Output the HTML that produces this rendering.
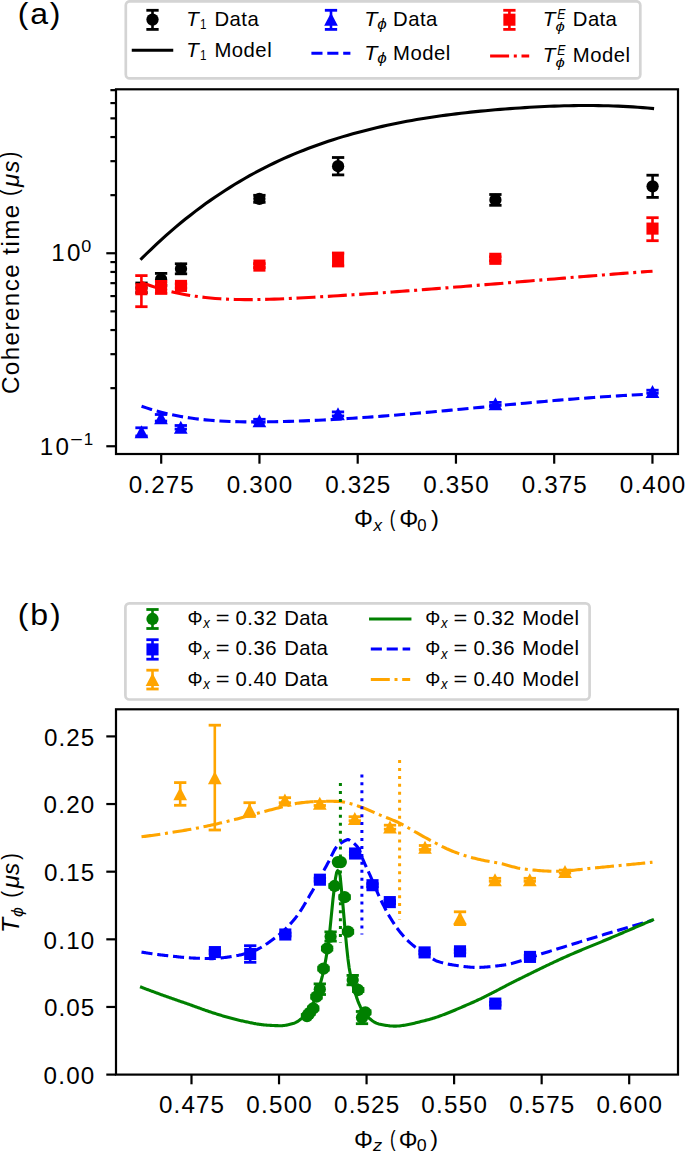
<!DOCTYPE html><html><head><meta charset="utf-8"><title>Coherence time plots</title><style>html,body{margin:0;padding:0;background:#fff;overflow:hidden;}svg{display:block;}text{font-family:"Liberation Sans",sans-serif;}</style></head><body>
<svg width="685" height="1153" viewBox="0 0 685 1153">
<rect width="685" height="1153" fill="#fff"/>
<line x1="141.5" y1="283" x2="141.5" y2="292.6" stroke="#000000" stroke-width="2.6"/>
<line x1="135.35" y1="283" x2="147.65" y2="283" stroke="#000000" stroke-width="2.8"/>
<line x1="135.35" y1="292.6" x2="147.65" y2="292.6" stroke="#000000" stroke-width="2.8"/>
<circle cx="141.5" cy="287.8" r="6.15" fill="#000000"/>
<line x1="161.1" y1="273.4" x2="161.1" y2="285.4" stroke="#000000" stroke-width="2.6"/>
<line x1="154.95" y1="273.4" x2="167.25" y2="273.4" stroke="#000000" stroke-width="2.8"/>
<line x1="154.95" y1="285.4" x2="167.25" y2="285.4" stroke="#000000" stroke-width="2.8"/>
<circle cx="161.1" cy="279.4" r="6.15" fill="#000000"/>
<line x1="181" y1="263.8" x2="181" y2="273.8" stroke="#000000" stroke-width="2.6"/>
<line x1="174.85" y1="263.8" x2="187.15" y2="263.8" stroke="#000000" stroke-width="2.8"/>
<line x1="174.85" y1="273.8" x2="187.15" y2="273.8" stroke="#000000" stroke-width="2.8"/>
<circle cx="181" cy="268.8" r="6.15" fill="#000000"/>
<line x1="259.4" y1="195.3" x2="259.4" y2="202.3" stroke="#000000" stroke-width="2.6"/>
<line x1="253.25" y1="195.3" x2="265.55" y2="195.3" stroke="#000000" stroke-width="2.8"/>
<line x1="253.25" y1="202.3" x2="265.55" y2="202.3" stroke="#000000" stroke-width="2.8"/>
<circle cx="259.4" cy="198.8" r="6.15" fill="#000000"/>
<line x1="338.1" y1="157.5" x2="338.1" y2="174.9" stroke="#000000" stroke-width="2.6"/>
<line x1="331.95" y1="157.5" x2="344.25" y2="157.5" stroke="#000000" stroke-width="2.8"/>
<line x1="331.95" y1="174.9" x2="344.25" y2="174.9" stroke="#000000" stroke-width="2.8"/>
<circle cx="338.1" cy="166.2" r="6.15" fill="#000000"/>
<line x1="495.4" y1="194.5" x2="495.4" y2="205.3" stroke="#000000" stroke-width="2.6"/>
<line x1="489.25" y1="194.5" x2="501.55" y2="194.5" stroke="#000000" stroke-width="2.8"/>
<line x1="489.25" y1="205.3" x2="501.55" y2="205.3" stroke="#000000" stroke-width="2.8"/>
<circle cx="495.4" cy="199.9" r="6.15" fill="#000000"/>
<line x1="652.6" y1="175.2" x2="652.6" y2="197.4" stroke="#000000" stroke-width="2.6"/>
<line x1="646.45" y1="175.2" x2="658.75" y2="175.2" stroke="#000000" stroke-width="2.8"/>
<line x1="646.45" y1="197.4" x2="658.75" y2="197.4" stroke="#000000" stroke-width="2.8"/>
<circle cx="652.6" cy="186.3" r="6.15" fill="#000000"/>
<line x1="141.5" y1="427.8" x2="141.5" y2="436" stroke="#0000ff" stroke-width="2.6"/>
<line x1="135.35" y1="427.8" x2="147.65" y2="427.8" stroke="#0000ff" stroke-width="2.8"/>
<line x1="135.35" y1="436" x2="147.65" y2="436" stroke="#0000ff" stroke-width="2.8"/>
<polygon points="141.5,425.25 134.65,438.25 148.35,438.25" fill="#0000ff"/>
<line x1="161" y1="414.5" x2="161" y2="421.1" stroke="#0000ff" stroke-width="2.6"/>
<line x1="154.85" y1="414.5" x2="167.15" y2="414.5" stroke="#0000ff" stroke-width="2.8"/>
<line x1="154.85" y1="421.1" x2="167.15" y2="421.1" stroke="#0000ff" stroke-width="2.8"/>
<polygon points="161,411.15 154.15,424.15 167.85,424.15" fill="#0000ff"/>
<line x1="180.8" y1="425.5" x2="180.8" y2="429.1" stroke="#0000ff" stroke-width="2.6"/>
<line x1="174.65" y1="425.5" x2="186.95" y2="425.5" stroke="#0000ff" stroke-width="2.8"/>
<line x1="174.65" y1="429.1" x2="186.95" y2="429.1" stroke="#0000ff" stroke-width="2.8"/>
<polygon points="180.8,420.65 173.95,433.65 187.65,433.65" fill="#0000ff"/>
<line x1="259.4" y1="419.3" x2="259.4" y2="422.3" stroke="#0000ff" stroke-width="2.6"/>
<line x1="253.25" y1="419.3" x2="265.55" y2="419.3" stroke="#0000ff" stroke-width="2.8"/>
<line x1="253.25" y1="422.3" x2="265.55" y2="422.3" stroke="#0000ff" stroke-width="2.8"/>
<polygon points="259.4,414.15 252.55,427.15 266.25,427.15" fill="#0000ff"/>
<line x1="338" y1="411.9" x2="338" y2="415.9" stroke="#0000ff" stroke-width="2.6"/>
<line x1="331.85" y1="411.9" x2="344.15" y2="411.9" stroke="#0000ff" stroke-width="2.8"/>
<line x1="331.85" y1="415.9" x2="344.15" y2="415.9" stroke="#0000ff" stroke-width="2.8"/>
<polygon points="338,407.25 331.15,420.25 344.85,420.25" fill="#0000ff"/>
<line x1="495.4" y1="402.4" x2="495.4" y2="405.4" stroke="#0000ff" stroke-width="2.6"/>
<line x1="489.25" y1="402.4" x2="501.55" y2="402.4" stroke="#0000ff" stroke-width="2.8"/>
<line x1="489.25" y1="405.4" x2="501.55" y2="405.4" stroke="#0000ff" stroke-width="2.8"/>
<polygon points="495.4,397.25 488.55,410.25 502.25,410.25" fill="#0000ff"/>
<line x1="652.5" y1="390.2" x2="652.5" y2="393.2" stroke="#0000ff" stroke-width="2.6"/>
<line x1="646.35" y1="390.2" x2="658.65" y2="390.2" stroke="#0000ff" stroke-width="2.8"/>
<line x1="646.35" y1="393.2" x2="658.65" y2="393.2" stroke="#0000ff" stroke-width="2.8"/>
<polygon points="652.5,385.05 645.65,398.05 659.35,398.05" fill="#0000ff"/>
<line x1="141.4" y1="275.6" x2="141.4" y2="306.7" stroke="#ff0000" stroke-width="2.6"/>
<line x1="135.25" y1="275.6" x2="147.55" y2="275.6" stroke="#ff0000" stroke-width="2.8"/>
<line x1="135.25" y1="306.7" x2="147.55" y2="306.7" stroke="#ff0000" stroke-width="2.8"/>
<rect x="135.35" y="283.15" width="12.1" height="12.1" fill="#ff0000"/>
<line x1="161.1" y1="281.4" x2="161.1" y2="293.4" stroke="#ff0000" stroke-width="2.6"/>
<line x1="154.95" y1="281.4" x2="167.25" y2="281.4" stroke="#ff0000" stroke-width="2.8"/>
<line x1="154.95" y1="293.4" x2="167.25" y2="293.4" stroke="#ff0000" stroke-width="2.8"/>
<rect x="155.05" y="282.15" width="12.1" height="12.1" fill="#ff0000"/>
<line x1="181" y1="283.9" x2="181" y2="287.9" stroke="#ff0000" stroke-width="2.6"/>
<line x1="174.85" y1="283.9" x2="187.15" y2="283.9" stroke="#ff0000" stroke-width="2.8"/>
<line x1="174.85" y1="287.9" x2="187.15" y2="287.9" stroke="#ff0000" stroke-width="2.8"/>
<rect x="174.95" y="279.85" width="12.1" height="12.1" fill="#ff0000"/>
<line x1="259.4" y1="263.6" x2="259.4" y2="267.6" stroke="#ff0000" stroke-width="2.6"/>
<line x1="253.25" y1="263.6" x2="265.55" y2="263.6" stroke="#ff0000" stroke-width="2.8"/>
<line x1="253.25" y1="267.6" x2="265.55" y2="267.6" stroke="#ff0000" stroke-width="2.8"/>
<rect x="253.35" y="259.55" width="12.1" height="12.1" fill="#ff0000"/>
<line x1="338.1" y1="253" x2="338.1" y2="266" stroke="#ff0000" stroke-width="2.6"/>
<line x1="331.95" y1="253" x2="344.25" y2="253" stroke="#ff0000" stroke-width="2.8"/>
<line x1="331.95" y1="266" x2="344.25" y2="266" stroke="#ff0000" stroke-width="2.8"/>
<rect x="332.05" y="253.45" width="12.1" height="12.1" fill="#ff0000"/>
<line x1="495.3" y1="256.8" x2="495.3" y2="260.8" stroke="#ff0000" stroke-width="2.6"/>
<line x1="489.15" y1="256.8" x2="501.45" y2="256.8" stroke="#ff0000" stroke-width="2.8"/>
<line x1="489.15" y1="260.8" x2="501.45" y2="260.8" stroke="#ff0000" stroke-width="2.8"/>
<rect x="489.25" y="252.75" width="12.1" height="12.1" fill="#ff0000"/>
<line x1="652.5" y1="217.7" x2="652.5" y2="240.7" stroke="#ff0000" stroke-width="2.6"/>
<line x1="646.35" y1="217.7" x2="658.65" y2="217.7" stroke="#ff0000" stroke-width="2.8"/>
<line x1="646.35" y1="240.7" x2="658.65" y2="240.7" stroke="#ff0000" stroke-width="2.8"/>
<rect x="646.45" y="222.55" width="12.1" height="12.1" fill="#ff0000"/>
<path d="M141.55,258.65 L146.46,253.77 L151.38,249.02 L156.29,244.37 L161.2,239.84 L166.12,235.42 L171.03,231.11 L175.94,226.91 L180.86,222.81 L185.77,218.82 L190.69,214.93 L195.6,211.14 L200.51,207.45 L205.43,203.86 L210.34,200.37 L215.25,196.97 L220.17,193.67 L225.08,190.45 L229.99,187.33 L234.91,184.29 L239.82,181.35 L244.73,178.48 L249.65,175.7 L254.56,173.01 L259.47,170.39 L264.39,167.85 L269.3,165.39 L274.21,163.01 L279.13,160.69 L284.04,158.46 L288.95,156.29 L293.87,154.19 L298.78,152.16 L303.7,150.19 L308.61,148.29 L313.52,146.45 L318.44,144.67 L323.35,142.95 L328.26,141.29 L333.18,139.69 L338.09,138.14 L343,136.64 L347.92,135.19 L352.83,133.8 L357.74,132.45 L362.66,131.15 L367.57,129.89 L372.48,128.68 L377.4,127.51 L382.31,126.38 L387.22,125.29 L392.14,124.25 L397.05,123.24 L401.97,122.27 L406.88,121.34 L411.79,120.44 L416.71,119.58 L421.62,118.75 L426.53,117.96 L431.45,117.19 L436.36,116.46 L441.27,115.76 L446.19,115.09 L451.1,114.45 L456.01,113.84 L460.93,113.25 L465.84,112.69 L470.75,112.15 L475.67,111.63 L480.58,111.14 L485.49,110.67 L490.41,110.23 L495.32,109.8 L500.24,109.39 L505.15,109 L510.06,108.62 L514.98,108.27 L519.89,107.93 L524.8,107.61 L529.72,107.31 L534.63,107.03 L539.54,106.77 L544.46,106.53 L549.37,106.31 L554.28,106.12 L559.2,105.96 L564.11,105.81 L569.02,105.7 L573.94,105.61 L578.85,105.55 L583.76,105.51 L588.68,105.51 L593.59,105.54 L598.51,105.59 L603.42,105.68 L608.33,105.8 L613.25,105.96 L618.16,106.14 L623.07,106.37 L627.99,106.63 L632.9,106.92 L637.81,107.25 L642.73,107.63 L647.64,108.03 L652.55,108.48" fill="none" stroke="#000000" stroke-width="3.1" stroke-linejoin="round" stroke-linecap="square"/>
<path d="M141.55,406.19 L146.46,407.86 L151.38,409.42 L156.29,410.86 L161.2,412.19 L166.12,413.41 L171.03,414.53 L175.94,415.55 L180.86,416.48 L185.77,417.31 L190.69,418.07 L195.6,418.73 L200.51,419.32 L205.43,419.84 L210.34,420.29 L215.25,420.67 L220.17,420.99 L225.08,421.26 L229.99,421.47 L234.91,421.63 L239.82,421.75 L244.73,421.83 L249.65,421.87 L254.56,421.88 L259.47,421.86 L264.39,421.82 L269.3,421.76 L274.21,421.68 L279.13,421.58 L284.04,421.47 L288.95,421.33 L293.87,421.18 L298.78,421.02 L303.7,420.84 L308.61,420.64 L313.52,420.43 L318.44,420.2 L323.35,419.96 L328.26,419.71 L333.18,419.44 L338.09,419.16 L343,418.86 L347.92,418.56 L352.83,418.24 L357.74,417.91 L362.66,417.57 L367.57,417.23 L372.48,416.87 L377.4,416.5 L382.31,416.12 L387.22,415.73 L392.14,415.34 L397.05,414.94 L401.97,414.53 L406.88,414.11 L411.79,413.69 L416.71,413.26 L421.62,412.83 L426.53,412.39 L431.45,411.94 L436.36,411.5 L441.27,411.04 L446.19,410.59 L451.1,410.13 L456.01,409.67 L460.93,409.21 L465.84,408.74 L470.75,408.27 L475.67,407.81 L480.58,407.34 L485.49,406.87 L490.41,406.41 L495.32,405.94 L500.24,405.47 L505.15,405.01 L510.06,404.55 L514.98,404.09 L519.89,403.64 L524.8,403.19 L529.72,402.74 L534.63,402.3 L539.54,401.86 L544.46,401.42 L549.37,401 L554.28,400.57 L559.2,400.16 L564.11,399.75 L569.02,399.35 L573.94,398.96 L578.85,398.57 L583.76,398.2 L588.68,397.83 L593.59,397.47 L598.51,397.12 L603.42,396.79 L608.33,396.46 L613.25,396.14 L618.16,395.84 L623.07,395.55 L627.99,395.27 L632.9,395 L637.81,394.75 L642.73,394.51 L647.64,394.29 L652.55,394.08" fill="none" stroke="#0000ff" stroke-width="3.1" stroke-linejoin="round" stroke-dasharray="11.1,4.8" stroke-linecap="butt"/>
<path d="M141.55,282.47 L146.46,284.33 L151.38,286.05 L156.29,287.65 L161.2,289.11 L166.12,290.46 L171.03,291.69 L175.94,292.81 L180.86,293.83 L185.77,294.74 L190.69,295.57 L195.6,296.3 L200.51,296.94 L205.43,297.51 L210.34,298 L215.25,298.42 L220.17,298.77 L225.08,299.06 L229.99,299.28 L234.91,299.45 L239.82,299.56 L244.73,299.62 L249.65,299.64 L254.56,299.61 L259.47,299.55 L264.39,299.44 L269.3,299.31 L274.21,299.14 L279.13,298.95 L284.04,298.74 L288.95,298.51 L293.87,298.26 L298.78,298.01 L303.7,297.74 L308.61,297.47 L313.52,297.2 L318.44,296.91 L323.35,296.62 L328.26,296.33 L333.18,296.03 L338.09,295.72 L343,295.41 L347.92,295.09 L352.83,294.77 L357.74,294.44 L362.66,294.11 L367.57,293.77 L372.48,293.43 L377.4,293.09 L382.31,292.74 L387.22,292.38 L392.14,292.02 L397.05,291.66 L401.97,291.29 L406.88,290.92 L411.79,290.55 L416.71,290.18 L421.62,289.8 L426.53,289.41 L431.45,289.03 L436.36,288.64 L441.27,288.25 L446.19,287.86 L451.1,287.46 L456.01,287.07 L460.93,286.67 L465.84,286.27 L470.75,285.87 L475.67,285.46 L480.58,285.06 L485.49,284.65 L490.41,284.24 L495.32,283.84 L500.24,283.43 L505.15,283.02 L510.06,282.61 L514.98,282.2 L519.89,281.79 L524.8,281.38 L529.72,280.97 L534.63,280.56 L539.54,280.15 L544.46,279.74 L549.37,279.33 L554.28,278.92 L559.2,278.52 L564.11,278.11 L569.02,277.71 L573.94,277.3 L578.85,276.9 L583.76,276.51 L588.68,276.11 L593.59,275.71 L598.51,275.32 L603.42,274.93 L608.33,274.54 L613.25,274.16 L618.16,273.77 L623.07,273.39 L627.99,273.02 L632.9,272.64 L637.81,272.28 L642.73,271.91 L647.64,271.55 L652.55,271.19" fill="none" stroke="#ff0000" stroke-width="3.1" stroke-linejoin="round" stroke-dasharray="19,4.7,3,4.7" stroke-linecap="butt"/>
<line x1="161.2" y1="454" x2="161.2" y2="463.7" stroke="#000" stroke-width="2.2"/>
<line x1="259.45" y1="454" x2="259.45" y2="463.7" stroke="#000" stroke-width="2.2"/>
<line x1="357.7" y1="454" x2="357.7" y2="463.7" stroke="#000" stroke-width="2.2"/>
<line x1="455.95" y1="454" x2="455.95" y2="463.7" stroke="#000" stroke-width="2.2"/>
<line x1="554.2" y1="454" x2="554.2" y2="463.7" stroke="#000" stroke-width="2.2"/>
<line x1="652.45" y1="454" x2="652.45" y2="463.7" stroke="#000" stroke-width="2.2"/>
<line x1="106.3" y1="446.25" x2="116" y2="446.25" stroke="#000" stroke-width="2.2"/>
<line x1="106.3" y1="253.25" x2="116" y2="253.25" stroke="#000" stroke-width="2.2"/>
<line x1="110.4" y1="388.15" x2="116" y2="388.15" stroke="#000" stroke-width="2.2"/>
<line x1="110.4" y1="354.17" x2="116" y2="354.17" stroke="#000" stroke-width="2.2"/>
<line x1="110.4" y1="330.05" x2="116" y2="330.05" stroke="#000" stroke-width="2.2"/>
<line x1="110.4" y1="311.35" x2="116" y2="311.35" stroke="#000" stroke-width="2.2"/>
<line x1="110.4" y1="296.07" x2="116" y2="296.07" stroke="#000" stroke-width="2.2"/>
<line x1="110.4" y1="283.15" x2="116" y2="283.15" stroke="#000" stroke-width="2.2"/>
<line x1="110.4" y1="271.95" x2="116" y2="271.95" stroke="#000" stroke-width="2.2"/>
<line x1="110.4" y1="262.08" x2="116" y2="262.08" stroke="#000" stroke-width="2.2"/>
<line x1="110.4" y1="195.15" x2="116" y2="195.15" stroke="#000" stroke-width="2.2"/>
<line x1="110.4" y1="161.17" x2="116" y2="161.17" stroke="#000" stroke-width="2.2"/>
<line x1="110.4" y1="137.05" x2="116" y2="137.05" stroke="#000" stroke-width="2.2"/>
<line x1="110.4" y1="118.35" x2="116" y2="118.35" stroke="#000" stroke-width="2.2"/>
<line x1="110.4" y1="103.07" x2="116" y2="103.07" stroke="#000" stroke-width="2.2"/>
<line x1="110.4" y1="90.15" x2="116" y2="90.15" stroke="#000" stroke-width="2.2"/>
<rect x="116" y="89.3" width="562" height="364.7" fill="none" stroke="#000" stroke-width="2.2" stroke-linejoin="miter"/>
<line x1="307" y1="1014.6" x2="307" y2="1017.6" stroke="#008000" stroke-width="2.6"/>
<line x1="300.85" y1="1014.6" x2="313.15" y2="1014.6" stroke="#008000" stroke-width="2.8"/>
<line x1="300.85" y1="1017.6" x2="313.15" y2="1017.6" stroke="#008000" stroke-width="2.8"/>
<circle cx="307" cy="1016.1" r="6.15" fill="#008000"/>
<line x1="309.6" y1="1011.3" x2="309.6" y2="1014.3" stroke="#008000" stroke-width="2.6"/>
<line x1="303.45" y1="1011.3" x2="315.75" y2="1011.3" stroke="#008000" stroke-width="2.8"/>
<line x1="303.45" y1="1014.3" x2="315.75" y2="1014.3" stroke="#008000" stroke-width="2.8"/>
<circle cx="309.6" cy="1012.8" r="6.15" fill="#008000"/>
<line x1="313.2" y1="1006.9" x2="313.2" y2="1009.9" stroke="#008000" stroke-width="2.6"/>
<line x1="307.05" y1="1006.9" x2="319.35" y2="1006.9" stroke="#008000" stroke-width="2.8"/>
<line x1="307.05" y1="1009.9" x2="319.35" y2="1009.9" stroke="#008000" stroke-width="2.8"/>
<circle cx="313.2" cy="1008.4" r="6.15" fill="#008000"/>
<line x1="316.5" y1="995.2" x2="316.5" y2="998.2" stroke="#008000" stroke-width="2.6"/>
<line x1="310.35" y1="995.2" x2="322.65" y2="995.2" stroke="#008000" stroke-width="2.8"/>
<line x1="310.35" y1="998.2" x2="322.65" y2="998.2" stroke="#008000" stroke-width="2.8"/>
<circle cx="316.5" cy="996.7" r="6.15" fill="#008000"/>
<line x1="319.8" y1="983.9" x2="319.8" y2="994.5" stroke="#008000" stroke-width="2.6"/>
<line x1="313.65" y1="983.9" x2="325.95" y2="983.9" stroke="#008000" stroke-width="2.8"/>
<line x1="313.65" y1="994.5" x2="325.95" y2="994.5" stroke="#008000" stroke-width="2.8"/>
<circle cx="319.8" cy="989.2" r="6.15" fill="#008000"/>
<line x1="323.5" y1="967.1" x2="323.5" y2="970.1" stroke="#008000" stroke-width="2.6"/>
<line x1="317.35" y1="967.1" x2="329.65" y2="967.1" stroke="#008000" stroke-width="2.8"/>
<line x1="317.35" y1="970.1" x2="329.65" y2="970.1" stroke="#008000" stroke-width="2.8"/>
<circle cx="323.5" cy="968.6" r="6.15" fill="#008000"/>
<line x1="327.1" y1="947" x2="327.1" y2="950" stroke="#008000" stroke-width="2.6"/>
<line x1="320.95" y1="947" x2="333.25" y2="947" stroke="#008000" stroke-width="2.8"/>
<line x1="320.95" y1="950" x2="333.25" y2="950" stroke="#008000" stroke-width="2.8"/>
<circle cx="327.1" cy="948.5" r="6.15" fill="#008000"/>
<line x1="330.6" y1="931.9" x2="330.6" y2="941.1" stroke="#008000" stroke-width="2.6"/>
<line x1="324.45" y1="931.9" x2="336.75" y2="931.9" stroke="#008000" stroke-width="2.8"/>
<line x1="324.45" y1="941.1" x2="336.75" y2="941.1" stroke="#008000" stroke-width="2.8"/>
<circle cx="330.6" cy="936.5" r="6.15" fill="#008000"/>
<line x1="334.6" y1="884.5" x2="334.6" y2="887.5" stroke="#008000" stroke-width="2.6"/>
<line x1="328.45" y1="884.5" x2="340.75" y2="884.5" stroke="#008000" stroke-width="2.8"/>
<line x1="328.45" y1="887.5" x2="340.75" y2="887.5" stroke="#008000" stroke-width="2.8"/>
<circle cx="334.6" cy="886" r="6.15" fill="#008000"/>
<circle cx="337.9" cy="862.1" r="6.15" fill="#008000"/>
<circle cx="340.8" cy="862.1" r="6.15" fill="#008000"/>
<line x1="344.6" y1="895.7" x2="344.6" y2="898.7" stroke="#008000" stroke-width="2.6"/>
<line x1="338.45" y1="895.7" x2="350.75" y2="895.7" stroke="#008000" stroke-width="2.8"/>
<line x1="338.45" y1="898.7" x2="350.75" y2="898.7" stroke="#008000" stroke-width="2.8"/>
<circle cx="344.6" cy="897.2" r="6.15" fill="#008000"/>
<line x1="348" y1="930.2" x2="348" y2="933.2" stroke="#008000" stroke-width="2.6"/>
<line x1="341.85" y1="930.2" x2="354.15" y2="930.2" stroke="#008000" stroke-width="2.8"/>
<line x1="341.85" y1="933.2" x2="354.15" y2="933.2" stroke="#008000" stroke-width="2.8"/>
<circle cx="348" cy="931.7" r="6.15" fill="#008000"/>
<line x1="352.7" y1="975.4" x2="352.7" y2="984.8" stroke="#008000" stroke-width="2.6"/>
<line x1="346.55" y1="975.4" x2="358.85" y2="975.4" stroke="#008000" stroke-width="2.8"/>
<line x1="346.55" y1="984.8" x2="358.85" y2="984.8" stroke="#008000" stroke-width="2.8"/>
<circle cx="352.7" cy="980.1" r="6.15" fill="#008000"/>
<line x1="358.2" y1="988.5" x2="358.2" y2="991.5" stroke="#008000" stroke-width="2.6"/>
<line x1="352.05" y1="988.5" x2="364.35" y2="988.5" stroke="#008000" stroke-width="2.8"/>
<line x1="352.05" y1="991.5" x2="364.35" y2="991.5" stroke="#008000" stroke-width="2.8"/>
<circle cx="358.2" cy="990" r="6.15" fill="#008000"/>
<line x1="362" y1="1011.5" x2="362" y2="1023.7" stroke="#008000" stroke-width="2.6"/>
<line x1="355.85" y1="1011.5" x2="368.15" y2="1011.5" stroke="#008000" stroke-width="2.8"/>
<line x1="355.85" y1="1023.7" x2="368.15" y2="1023.7" stroke="#008000" stroke-width="2.8"/>
<circle cx="362" cy="1017.6" r="6.15" fill="#008000"/>
<line x1="365.3" y1="1010.8" x2="365.3" y2="1013.8" stroke="#008000" stroke-width="2.6"/>
<line x1="359.15" y1="1010.8" x2="371.45" y2="1010.8" stroke="#008000" stroke-width="2.8"/>
<line x1="359.15" y1="1013.8" x2="371.45" y2="1013.8" stroke="#008000" stroke-width="2.8"/>
<circle cx="365.3" cy="1012.3" r="6.15" fill="#008000"/>
<line x1="214.9" y1="950.6" x2="214.9" y2="953.6" stroke="#0000ff" stroke-width="2.6"/>
<line x1="208.75" y1="950.6" x2="221.05" y2="950.6" stroke="#0000ff" stroke-width="2.8"/>
<line x1="208.75" y1="953.6" x2="221.05" y2="953.6" stroke="#0000ff" stroke-width="2.8"/>
<rect x="208.85" y="946.05" width="12.1" height="12.1" fill="#0000ff"/>
<line x1="250.2" y1="945.7" x2="250.2" y2="962.3" stroke="#0000ff" stroke-width="2.6"/>
<line x1="244.05" y1="945.7" x2="256.35" y2="945.7" stroke="#0000ff" stroke-width="2.8"/>
<line x1="244.05" y1="962.3" x2="256.35" y2="962.3" stroke="#0000ff" stroke-width="2.8"/>
<rect x="244.15" y="947.95" width="12.1" height="12.1" fill="#0000ff"/>
<line x1="285.3" y1="933" x2="285.3" y2="936" stroke="#0000ff" stroke-width="2.6"/>
<line x1="279.15" y1="933" x2="291.45" y2="933" stroke="#0000ff" stroke-width="2.8"/>
<line x1="279.15" y1="936" x2="291.45" y2="936" stroke="#0000ff" stroke-width="2.8"/>
<rect x="279.25" y="928.45" width="12.1" height="12.1" fill="#0000ff"/>
<line x1="319.9" y1="878.2" x2="319.9" y2="881.2" stroke="#0000ff" stroke-width="2.6"/>
<line x1="313.75" y1="878.2" x2="326.05" y2="878.2" stroke="#0000ff" stroke-width="2.8"/>
<line x1="313.75" y1="881.2" x2="326.05" y2="881.2" stroke="#0000ff" stroke-width="2.8"/>
<rect x="313.85" y="873.65" width="12.1" height="12.1" fill="#0000ff"/>
<line x1="355.1" y1="852" x2="355.1" y2="855" stroke="#0000ff" stroke-width="2.6"/>
<line x1="348.95" y1="852" x2="361.25" y2="852" stroke="#0000ff" stroke-width="2.8"/>
<line x1="348.95" y1="855" x2="361.25" y2="855" stroke="#0000ff" stroke-width="2.8"/>
<rect x="349.05" y="847.45" width="12.1" height="12.1" fill="#0000ff"/>
<line x1="372.5" y1="883.7" x2="372.5" y2="886.7" stroke="#0000ff" stroke-width="2.6"/>
<line x1="366.35" y1="883.7" x2="378.65" y2="883.7" stroke="#0000ff" stroke-width="2.8"/>
<line x1="366.35" y1="886.7" x2="378.65" y2="886.7" stroke="#0000ff" stroke-width="2.8"/>
<rect x="366.45" y="879.15" width="12.1" height="12.1" fill="#0000ff"/>
<line x1="389.8" y1="900.6" x2="389.8" y2="903.6" stroke="#0000ff" stroke-width="2.6"/>
<line x1="383.65" y1="900.6" x2="395.95" y2="900.6" stroke="#0000ff" stroke-width="2.8"/>
<line x1="383.65" y1="903.6" x2="395.95" y2="903.6" stroke="#0000ff" stroke-width="2.8"/>
<rect x="383.75" y="896.05" width="12.1" height="12.1" fill="#0000ff"/>
<line x1="424.6" y1="950.9" x2="424.6" y2="953.9" stroke="#0000ff" stroke-width="2.6"/>
<line x1="418.45" y1="950.9" x2="430.75" y2="950.9" stroke="#0000ff" stroke-width="2.8"/>
<line x1="418.45" y1="953.9" x2="430.75" y2="953.9" stroke="#0000ff" stroke-width="2.8"/>
<rect x="418.55" y="946.35" width="12.1" height="12.1" fill="#0000ff"/>
<line x1="460" y1="949.8" x2="460" y2="952.8" stroke="#0000ff" stroke-width="2.6"/>
<line x1="453.85" y1="949.8" x2="466.15" y2="949.8" stroke="#0000ff" stroke-width="2.8"/>
<line x1="453.85" y1="952.8" x2="466.15" y2="952.8" stroke="#0000ff" stroke-width="2.8"/>
<rect x="453.95" y="945.25" width="12.1" height="12.1" fill="#0000ff"/>
<line x1="495.3" y1="1002.1" x2="495.3" y2="1005.1" stroke="#0000ff" stroke-width="2.6"/>
<line x1="489.15" y1="1002.1" x2="501.45" y2="1002.1" stroke="#0000ff" stroke-width="2.8"/>
<line x1="489.15" y1="1005.1" x2="501.45" y2="1005.1" stroke="#0000ff" stroke-width="2.8"/>
<rect x="489.25" y="997.55" width="12.1" height="12.1" fill="#0000ff"/>
<line x1="530" y1="955.4" x2="530" y2="958.4" stroke="#0000ff" stroke-width="2.6"/>
<line x1="523.85" y1="955.4" x2="536.15" y2="955.4" stroke="#0000ff" stroke-width="2.8"/>
<line x1="523.85" y1="958.4" x2="536.15" y2="958.4" stroke="#0000ff" stroke-width="2.8"/>
<rect x="523.95" y="950.85" width="12.1" height="12.1" fill="#0000ff"/>
<line x1="180.2" y1="782.6" x2="180.2" y2="805.3" stroke="#ffa500" stroke-width="2.6"/>
<line x1="174.05" y1="782.6" x2="186.35" y2="782.6" stroke="#ffa500" stroke-width="2.8"/>
<line x1="174.05" y1="805.3" x2="186.35" y2="805.3" stroke="#ffa500" stroke-width="2.8"/>
<polygon points="180.2,787.35 173.35,800.35 187.05,800.35" fill="#ffa500"/>
<line x1="214.8" y1="725.2" x2="214.8" y2="830" stroke="#ffa500" stroke-width="2.6"/>
<line x1="208.65" y1="725.2" x2="220.95" y2="725.2" stroke="#ffa500" stroke-width="2.8"/>
<line x1="208.65" y1="830" x2="220.95" y2="830" stroke="#ffa500" stroke-width="2.8"/>
<polygon points="214.8,771.25 207.95,784.25 221.65,784.25" fill="#ffa500"/>
<line x1="249.6" y1="802.7" x2="249.6" y2="816.5" stroke="#ffa500" stroke-width="2.6"/>
<line x1="243.45" y1="802.7" x2="255.75" y2="802.7" stroke="#ffa500" stroke-width="2.8"/>
<line x1="243.45" y1="816.5" x2="255.75" y2="816.5" stroke="#ffa500" stroke-width="2.8"/>
<polygon points="249.6,803.25 242.75,816.25 256.45,816.25" fill="#ffa500"/>
<line x1="284.9" y1="797.7" x2="284.9" y2="802.7" stroke="#ffa500" stroke-width="2.6"/>
<line x1="278.75" y1="797.7" x2="291.05" y2="797.7" stroke="#ffa500" stroke-width="2.8"/>
<line x1="278.75" y1="802.7" x2="291.05" y2="802.7" stroke="#ffa500" stroke-width="2.8"/>
<polygon points="284.9,793.55 278.05,806.55 291.75,806.55" fill="#ffa500"/>
<line x1="319.8" y1="801.5" x2="319.8" y2="805.5" stroke="#ffa500" stroke-width="2.6"/>
<line x1="313.65" y1="801.5" x2="325.95" y2="801.5" stroke="#ffa500" stroke-width="2.8"/>
<line x1="313.65" y1="805.5" x2="325.95" y2="805.5" stroke="#ffa500" stroke-width="2.8"/>
<polygon points="319.8,796.85 312.95,809.85 326.65,809.85" fill="#ffa500"/>
<line x1="354.8" y1="816.7" x2="354.8" y2="820.7" stroke="#ffa500" stroke-width="2.6"/>
<line x1="348.65" y1="816.7" x2="360.95" y2="816.7" stroke="#ffa500" stroke-width="2.8"/>
<line x1="348.65" y1="820.7" x2="360.95" y2="820.7" stroke="#ffa500" stroke-width="2.8"/>
<polygon points="354.8,812.05 347.95,825.05 361.65,825.05" fill="#ffa500"/>
<line x1="390" y1="825.2" x2="390" y2="829.2" stroke="#ffa500" stroke-width="2.6"/>
<line x1="383.85" y1="825.2" x2="396.15" y2="825.2" stroke="#ffa500" stroke-width="2.8"/>
<line x1="383.85" y1="829.2" x2="396.15" y2="829.2" stroke="#ffa500" stroke-width="2.8"/>
<polygon points="390,820.55 383.15,833.55 396.85,833.55" fill="#ffa500"/>
<line x1="425" y1="845.5" x2="425" y2="849.5" stroke="#ffa500" stroke-width="2.6"/>
<line x1="418.85" y1="845.5" x2="431.15" y2="845.5" stroke="#ffa500" stroke-width="2.8"/>
<line x1="418.85" y1="849.5" x2="431.15" y2="849.5" stroke="#ffa500" stroke-width="2.8"/>
<polygon points="425,840.85 418.15,853.85 431.85,853.85" fill="#ffa500"/>
<line x1="460" y1="911.8" x2="460" y2="924.6" stroke="#ffa500" stroke-width="2.6"/>
<line x1="453.85" y1="911.8" x2="466.15" y2="911.8" stroke="#ffa500" stroke-width="2.8"/>
<line x1="453.85" y1="924.6" x2="466.15" y2="924.6" stroke="#ffa500" stroke-width="2.8"/>
<polygon points="460,911.55 453.15,924.55 466.85,924.55" fill="#ffa500"/>
<line x1="495" y1="878.3" x2="495" y2="881.3" stroke="#ffa500" stroke-width="2.6"/>
<line x1="488.85" y1="878.3" x2="501.15" y2="878.3" stroke="#ffa500" stroke-width="2.8"/>
<line x1="488.85" y1="881.3" x2="501.15" y2="881.3" stroke="#ffa500" stroke-width="2.8"/>
<polygon points="495,873.15 488.15,886.15 501.85,886.15" fill="#ffa500"/>
<line x1="529.8" y1="878.3" x2="529.8" y2="881.3" stroke="#ffa500" stroke-width="2.6"/>
<line x1="523.65" y1="878.3" x2="535.95" y2="878.3" stroke="#ffa500" stroke-width="2.8"/>
<line x1="523.65" y1="881.3" x2="535.95" y2="881.3" stroke="#ffa500" stroke-width="2.8"/>
<polygon points="529.8,873.15 522.95,886.15 536.65,886.15" fill="#ffa500"/>
<line x1="565" y1="870.1" x2="565" y2="873.1" stroke="#ffa500" stroke-width="2.6"/>
<line x1="558.85" y1="870.1" x2="571.15" y2="870.1" stroke="#ffa500" stroke-width="2.8"/>
<line x1="558.85" y1="873.1" x2="571.15" y2="873.1" stroke="#ffa500" stroke-width="2.8"/>
<polygon points="565,864.95 558.15,877.95 571.85,877.95" fill="#ffa500"/>
<path d="M141.5,952.1 L142.35,952.24 L143.21,952.37 L144.06,952.51 L144.91,952.65 L145.77,952.78 L146.62,952.91 L147.47,953.04 L148.32,953.17 L149.18,953.3 L150.03,953.43 L150.88,953.56 L151.74,953.68 L152.59,953.81 L153.44,953.93 L154.3,954.05 L155.15,954.17 L156,954.28 L156.86,954.4 L157.71,954.51 L158.56,954.62 L159.41,954.73 L160.27,954.84 L161.12,954.94 L161.97,955.04 L162.83,955.14 L163.68,955.24 L164.53,955.34 L165.39,955.43 L166.24,955.53 L167.09,955.62 L167.95,955.72 L168.8,955.82 L169.65,955.91 L170.51,956.01 L171.36,956.1 L172.21,956.2 L173.06,956.29 L173.92,956.39 L174.77,956.48 L175.62,956.57 L176.48,956.66 L177.33,956.75 L178.18,956.84 L179.04,956.93 L179.89,957.01 L180.74,957.1 L181.6,957.18 L182.45,957.26 L183.3,957.34 L184.15,957.42 L185.01,957.49 L185.86,957.56 L186.71,957.63 L187.57,957.7 L188.42,957.76 L189.27,957.82 L190.13,957.88 L190.98,957.93 L191.83,957.99 L192.69,958.03 L193.54,958.08 L194.39,958.12 L195.24,958.16 L196.1,958.19 L196.95,958.22 L197.8,958.26 L198.66,958.29 L199.51,958.32 L200.36,958.35 L201.22,958.38 L202.07,958.4 L202.92,958.43 L203.78,958.46 L204.63,958.48 L205.48,958.5 L206.33,958.52 L207.19,958.54 L208.04,958.56 L208.89,958.57 L209.75,958.58 L210.6,958.59 L211.45,958.6 L212.31,958.6 L213.16,958.59 L214.01,958.57 L214.87,958.54 L215.72,958.5 L216.57,958.44 L217.42,958.37 L218.28,958.29 L219.13,958.21 L219.98,958.12 L220.84,958.02 L221.69,957.91 L222.54,957.8 L223.4,957.69 L224.25,957.57 L225.1,957.45 L225.96,957.34 L226.81,957.22 L227.66,957.1 L228.52,956.98 L229.37,956.87 L230.22,956.75 L231.07,956.62 L231.93,956.49 L232.78,956.35 L233.63,956.21 L234.49,956.06 L235.34,955.91 L236.19,955.75 L237.05,955.59 L237.9,955.42 L238.75,955.25 L239.61,955.07 L240.46,954.89 L241.31,954.69 L242.16,954.5 L243.02,954.29 L243.87,954.08 L244.72,953.87 L245.58,953.64 L246.43,953.42 L247.28,953.18 L248.14,952.94 L248.99,952.69 L249.84,952.43 L250.7,952.16 L251.55,951.89 L252.4,951.59 L253.25,951.27 L254.11,950.93 L254.96,950.57 L255.81,950.19 L256.67,949.79 L257.52,949.37 L258.37,948.93 L259.23,948.48 L260.08,948.01 L260.93,947.52 L261.79,947.02 L262.64,946.51 L263.49,945.98 L264.34,945.44 L265.2,944.89 L266.05,944.33 L266.9,943.75 L267.76,943.17 L268.61,942.58 L269.46,941.97 L270.32,941.36 L271.17,940.75 L272.02,940.12 L272.88,939.5 L273.73,938.86 L274.58,938.22 L275.43,937.58 L276.29,936.94 L277.14,936.29 L277.99,935.62 L278.85,934.93 L279.7,934.23 L280.55,933.5 L281.41,932.76 L282.26,932 L283.11,931.23 L283.97,930.43 L284.82,929.62 L285.67,928.79 L286.53,927.93 L287.38,927.07 L288.23,926.18 L289.08,925.28 L289.94,924.35 L290.79,923.41 L291.64,922.45 L292.5,921.48 L293.35,920.48 L294.2,919.47 L295.06,918.44 L295.91,917.39 L296.76,916.3 L297.62,915.16 L298.47,913.97 L299.32,912.73 L300.17,911.45 L301.03,910.13 L301.88,908.78 L302.73,907.4 L303.59,905.99 L304.44,904.56 L305.29,903.12 L306.15,901.66 L307,900.19 L307.85,898.72 L308.71,897.25 L309.56,895.78 L310.41,894.32 L311.26,892.87 L312.12,891.43 L312.97,889.99 L313.82,888.53 L314.68,887.06 L315.53,885.57 L316.38,884.08 L317.24,882.57 L318.09,881.05 L318.94,879.52 L319.8,877.97 L320.65,876.42 L321.5,874.85 L322.35,873.28 L323.21,871.71 L324.06,870.13 L324.91,868.56 L325.77,866.98 L326.62,865.42 L327.47,863.86 L328.33,862.3 L329.18,860.66 L330.03,858.93 L330.89,857.17 L331.74,855.39 L332.59,853.64 L333.44,851.95 L334.3,850.36 L335.15,848.89 L336,847.59 L336.86,846.48 L337.71,845.6 L338.56,844.84 L339.42,844.13 L340.27,843.47 L341.12,842.87 L341.98,842.31 L342.83,841.8 L343.68,841.34 L344.54,840.91 L345.39,840.52 L346.24,840.15 L347.09,839.79 L347.95,839.6 L348.8,839.78 L349.65,840.26 L350.51,840.86 L351.36,841.44 L352.21,842.01 L353.07,842.63 L353.92,843.3 L354.77,844.02 L355.63,844.83 L356.48,845.73 L357.33,846.73 L358.18,847.86 L359.04,849.41 L359.89,851.38 L360.74,853.63 L361.6,855.99 L362.45,858.32 L363.3,860.47 L364.16,862.42 L365.01,864.33 L365.86,866.2 L366.72,868.04 L367.57,869.88 L368.42,871.71 L369.27,873.56 L370.13,875.43 L370.98,877.33 L371.83,879.28 L372.69,881.26 L373.54,883.27 L374.39,885.29 L375.25,887.32 L376.1,889.34 L376.95,891.35 L377.81,893.32 L378.66,895.26 L379.51,897.15 L380.36,898.99 L381.22,900.75 L382.07,902.49 L382.92,904.2 L383.78,905.89 L384.63,907.56 L385.48,909.19 L386.34,910.79 L387.19,912.37 L388.04,913.9 L388.9,915.4 L389.75,916.87 L390.6,918.29 L391.45,919.67 L392.31,921.03 L393.16,922.36 L394.01,923.67 L394.87,924.95 L395.72,926.21 L396.57,927.44 L397.43,928.63 L398.28,929.79 L399.13,930.91 L399.99,932 L400.84,933.05 L401.69,934.06 L402.55,935.04 L403.4,936.01 L404.25,936.95 L405.1,937.87 L405.96,938.76 L406.81,939.64 L407.66,940.49 L408.52,941.32 L409.37,942.12 L410.22,942.91 L411.08,943.67 L411.93,944.41 L412.78,945.12 L413.64,945.81 L414.49,946.48 L415.34,947.13 L416.19,947.75 L417.05,948.36 L417.9,948.95 L418.75,949.53 L419.61,950.1 L420.46,950.66 L421.31,951.22 L422.17,951.77 L423.02,952.31 L423.87,952.86 L424.73,953.42 L425.58,953.98 L426.43,954.56 L427.28,955.15 L428.14,955.75 L428.99,956.35 L429.84,956.95 L430.7,957.53 L431.55,958.11 L432.4,958.66 L433.26,959.19 L434.11,959.69 L434.96,960.16 L435.82,960.59 L436.67,960.97 L437.52,961.3 L438.37,961.59 L439.23,961.87 L440.08,962.13 L440.93,962.38 L441.79,962.62 L442.64,962.85 L443.49,963.07 L444.35,963.28 L445.2,963.49 L446.05,963.68 L446.91,963.86 L447.76,964.03 L448.61,964.2 L449.46,964.36 L450.32,964.51 L451.17,964.65 L452.02,964.79 L452.88,964.92 L453.73,965.05 L454.58,965.17 L455.44,965.3 L456.29,965.43 L457.14,965.55 L458,965.68 L458.85,965.8 L459.7,965.92 L460.56,966.05 L461.41,966.16 L462.26,966.28 L463.11,966.39 L463.97,966.5 L464.82,966.6 L465.67,966.7 L466.53,966.8 L467.38,966.89 L468.23,966.97 L469.09,967.05 L469.94,967.12 L470.79,967.18 L471.65,967.24 L472.5,967.29 L473.35,967.33 L474.2,967.36 L475.06,967.38 L475.91,967.4 L476.76,967.4 L477.62,967.39 L478.47,967.38 L479.32,967.36 L480.18,967.34 L481.03,967.31 L481.88,967.27 L482.74,967.23 L483.59,967.18 L484.44,967.13 L485.29,967.07 L486.15,967.01 L487,966.94 L487.85,966.87 L488.71,966.8 L489.56,966.72 L490.41,966.63 L491.27,966.55 L492.12,966.46 L492.97,966.37 L493.83,966.28 L494.68,966.18 L495.53,966.08 L496.38,965.98 L497.24,965.88 L498.09,965.78 L498.94,965.68 L499.8,965.57 L500.65,965.47 L501.5,965.36 L502.36,965.26 L503.21,965.14 L504.06,965.01 L504.92,964.88 L505.77,964.73 L506.62,964.57 L507.47,964.4 L508.33,964.23 L509.18,964.04 L510.03,963.85 L510.89,963.65 L511.74,963.44 L512.59,963.22 L513.45,962.99 L514.3,962.76 L515.15,962.52 L516.01,962.28 L516.86,962.03 L517.71,961.77 L518.57,961.51 L519.42,961.24 L520.27,960.97 L521.12,960.7 L521.98,960.42 L522.83,960.14 L523.68,959.85 L524.54,959.56 L525.39,959.27 L526.24,958.98 L527.1,958.69 L527.95,958.39 L528.8,958.09 L529.66,957.8 L530.51,957.5 L531.36,957.2 L532.21,956.9 L533.07,956.6 L533.92,956.31 L534.77,956.01 L535.63,955.72 L536.48,955.43 L537.33,955.14 L538.19,954.85 L539.04,954.57 L539.89,954.29 L540.75,954.01 L541.6,953.74 L542.45,953.47 L543.3,953.21 L544.16,952.95 L545.01,952.7 L545.86,952.44 L546.72,952.18 L547.57,951.92 L548.42,951.66 L549.28,951.4 L550.13,951.14 L550.98,950.88 L551.84,950.62 L552.69,950.36 L553.54,950.1 L554.39,949.83 L555.25,949.57 L556.1,949.31 L556.95,949.04 L557.81,948.78 L558.66,948.51 L559.51,948.25 L560.37,947.98 L561.22,947.72 L562.07,947.45 L562.93,947.19 L563.78,946.92 L564.63,946.66 L565.48,946.39 L566.34,946.12 L567.19,945.86 L568.04,945.59 L568.9,945.32 L569.75,945.06 L570.6,944.79 L571.46,944.53 L572.31,944.26 L573.16,943.99 L574.02,943.73 L574.87,943.46 L575.72,943.2 L576.58,942.93 L577.43,942.67 L578.28,942.4 L579.13,942.14 L579.99,941.87 L580.84,941.61 L581.69,941.34 L582.55,941.08 L583.4,940.82 L584.25,940.56 L585.11,940.29 L585.96,940.03 L586.81,939.77 L587.67,939.51 L588.52,939.25 L589.37,938.99 L590.22,938.73 L591.08,938.47 L591.93,938.21 L592.78,937.96 L593.64,937.7 L594.49,937.44 L595.34,937.18 L596.2,936.92 L597.05,936.67 L597.9,936.41 L598.76,936.15 L599.61,935.89 L600.46,935.64 L601.31,935.38 L602.17,935.12 L603.02,934.86 L603.87,934.61 L604.73,934.35 L605.58,934.09 L606.43,933.84 L607.29,933.58 L608.14,933.33 L608.99,933.07 L609.85,932.81 L610.7,932.56 L611.55,932.3 L612.4,932.05 L613.26,931.79 L614.11,931.54 L614.96,931.28 L615.82,931.03 L616.67,930.77 L617.52,930.52 L618.38,930.26 L619.23,930.01 L620.08,929.75 L620.94,929.5 L621.79,929.24 L622.64,928.99 L623.49,928.74 L624.35,928.48 L625.2,928.23 L626.05,927.98 L626.91,927.72 L627.76,927.47 L628.61,927.22 L629.47,926.97 L630.32,926.71 L631.17,926.46 L632.03,926.21 L632.88,925.96 L633.73,925.7 L634.59,925.45 L635.44,925.2 L636.29,924.95 L637.14,924.7 L638,924.45 L638.85,924.2 L639.7,923.94 L640.56,923.69 L641.41,923.44 L642.26,923.19 L643.12,922.94 L643.97,922.69 L644.82,922.44 L645.68,922.19 L646.53,921.94 L647.38,921.69 L648.23,921.44 L649.09,921.2 L649.94,920.95 L650.79,920.7 L651.65,920.45 L652.5,920.2" fill="none" stroke="#0000ff" stroke-width="3.1" stroke-linejoin="round" stroke-dasharray="11.1,4.8" stroke-linecap="butt"/>
<path d="M141.5,836.8 L143.21,836.58 L144.92,836.35 L146.63,836.12 L148.34,835.89 L150.05,835.65 L151.75,835.42 L153.46,835.17 L155.17,834.93 L156.88,834.68 L158.59,834.44 L160.3,834.18 L162.01,833.93 L163.72,833.67 L165.43,833.41 L167.14,833.15 L168.84,832.88 L170.55,832.62 L172.26,832.35 L173.97,832.08 L175.68,831.81 L177.39,831.53 L179.1,831.25 L180.81,830.97 L182.52,830.69 L184.23,830.4 L185.93,830.11 L187.64,829.82 L189.35,829.52 L191.06,829.21 L192.77,828.9 L194.48,828.59 L196.19,828.27 L197.9,827.95 L199.61,827.62 L201.32,827.28 L203.03,826.93 L204.73,826.58 L206.44,826.22 L208.15,825.85 L209.86,825.47 L211.57,825.09 L213.28,824.7 L214.99,824.31 L216.7,823.91 L218.41,823.51 L220.12,823.1 L221.82,822.69 L223.53,822.28 L225.24,821.86 L226.95,821.44 L228.66,821.02 L230.37,820.6 L232.08,820.18 L233.79,819.75 L235.5,819.32 L237.21,818.88 L238.91,818.44 L240.62,817.99 L242.33,817.53 L244.04,817.07 L245.75,816.61 L247.46,816.14 L249.17,815.67 L250.88,815.2 L252.59,814.73 L254.3,814.26 L256.01,813.8 L257.71,813.33 L259.42,812.86 L261.13,812.4 L262.84,811.94 L264.55,811.49 L266.26,811.03 L267.97,810.58 L269.68,810.12 L271.39,809.67 L273.1,809.22 L274.8,808.77 L276.51,808.32 L278.22,807.88 L279.93,807.44 L281.64,807.01 L283.35,806.55 L285.06,806.08 L286.77,805.61 L288.48,805.15 L290.19,804.71 L291.89,804.29 L293.6,803.92 L295.31,803.6 L297.02,803.34 L298.73,803.1 L300.44,802.88 L302.15,802.66 L303.86,802.46 L305.57,802.27 L307.28,802.1 L308.98,801.94 L310.69,801.8 L312.4,801.68 L314.11,801.58 L315.82,801.5 L317.53,801.44 L319.24,801.38 L320.95,801.32 L322.66,801.27 L324.37,801.24 L326.08,801.21 L327.78,801.2 L329.49,801.21 L331.2,801.23 L332.91,801.27 L334.62,801.33 L336.33,801.39 L338.04,801.48 L339.75,801.57 L341.46,801.71 L343.17,801.98 L344.87,802.35 L346.58,802.76 L348.29,803.17 L350,803.59 L351.71,804.05 L353.42,804.54 L355.13,805.05 L356.84,805.59 L358.55,806.16 L360.26,806.74 L361.96,807.34 L363.67,807.97 L365.38,808.65 L367.09,809.36 L368.8,810.1 L370.51,810.85 L372.22,811.61 L373.93,812.38 L375.64,813.14 L377.35,813.88 L379.06,814.61 L380.76,815.31 L382.47,815.99 L384.18,816.67 L385.89,817.34 L387.6,818.01 L389.31,818.68 L391.02,819.36 L392.73,820.06 L394.44,820.77 L396.15,821.51 L397.85,822.28 L399.56,823.08 L401.27,823.93 L402.98,824.84 L404.69,825.79 L406.4,826.78 L408.11,827.78 L409.82,828.79 L411.53,829.8 L413.24,830.8 L414.94,831.77 L416.65,832.72 L418.36,833.68 L420.07,834.64 L421.78,835.6 L423.49,836.56 L425.2,837.5 L426.91,838.45 L428.62,839.38 L430.33,840.3 L432.04,841.2 L433.74,842.1 L435.45,843 L437.16,843.91 L438.87,844.8 L440.58,845.69 L442.29,846.57 L444,847.42 L445.71,848.24 L447.42,849.04 L449.13,849.79 L450.83,850.5 L452.54,851.19 L454.25,851.86 L455.96,852.51 L457.67,853.15 L459.38,853.76 L461.09,854.35 L462.8,854.92 L464.51,855.47 L466.22,855.99 L467.92,856.49 L469.63,856.98 L471.34,857.45 L473.05,857.9 L474.76,858.34 L476.47,858.76 L478.18,859.17 L479.89,859.57 L481.6,859.95 L483.31,860.32 L485.02,860.68 L486.72,861.02 L488.43,861.34 L490.14,861.65 L491.85,861.94 L493.56,862.23 L495.27,862.52 L496.98,862.82 L498.69,863.14 L500.4,863.48 L502.11,863.86 L503.81,864.28 L505.52,864.73 L507.23,865.2 L508.94,865.68 L510.65,866.16 L512.36,866.64 L514.07,867.1 L515.78,867.54 L517.49,867.95 L519.2,868.31 L520.9,868.63 L522.61,868.89 L524.32,869.09 L526.03,869.28 L527.74,869.47 L529.45,869.65 L531.16,869.82 L532.87,869.99 L534.58,870.16 L536.29,870.31 L537.99,870.46 L539.7,870.6 L541.41,870.72 L543.12,870.84 L544.83,870.95 L546.54,871.04 L548.25,871.12 L549.96,871.19 L551.67,871.24 L553.38,871.28 L555.09,871.3 L556.79,871.3 L558.5,871.28 L560.21,871.23 L561.92,871.16 L563.63,871.07 L565.34,870.96 L567.05,870.84 L568.76,870.69 L570.47,870.54 L572.18,870.37 L573.88,870.19 L575.59,870.01 L577.3,869.81 L579.01,869.62 L580.72,869.42 L582.43,869.22 L584.14,869.02 L585.85,868.82 L587.56,868.62 L589.27,868.44 L590.97,868.26 L592.68,868.09 L594.39,867.93 L596.1,867.77 L597.81,867.61 L599.52,867.45 L601.23,867.29 L602.94,867.13 L604.65,866.96 L606.36,866.8 L608.07,866.64 L609.77,866.48 L611.48,866.31 L613.19,866.15 L614.9,865.98 L616.61,865.82 L618.32,865.65 L620.03,865.48 L621.74,865.32 L623.45,865.15 L625.16,864.98 L626.86,864.81 L628.57,864.64 L630.28,864.47 L631.99,864.3 L633.7,864.13 L635.41,863.96 L637.12,863.78 L638.83,863.61 L640.54,863.44 L642.25,863.26 L643.95,863.09 L645.66,862.91 L647.37,862.73 L649.08,862.56 L650.79,862.38 L652.5,862.2" fill="none" stroke="#ffa500" stroke-width="3.1" stroke-linejoin="round" stroke-dasharray="19,4.7,3,4.7" stroke-linecap="butt"/>
<path d="M141.5,987.3 L142.45,987.66 L143.39,988.02 L144.34,988.37 L145.29,988.73 L146.23,989.08 L147.18,989.44 L148.13,989.79 L149.07,990.15 L150.02,990.5 L150.97,990.85 L151.91,991.2 L152.86,991.55 L153.81,991.9 L154.75,992.25 L155.7,992.6 L156.65,992.95 L157.59,993.29 L158.54,993.64 L159.49,993.98 L160.43,994.33 L161.38,994.67 L162.33,995.01 L163.27,995.35 L164.22,995.69 L165.17,996.03 L166.12,996.37 L167.06,996.7 L168.01,997.04 L168.96,997.37 L169.9,997.71 L170.85,998.04 L171.8,998.37 L172.74,998.7 L173.69,999.04 L174.64,999.37 L175.58,999.7 L176.53,1000.03 L177.48,1000.36 L178.42,1000.69 L179.37,1001.02 L180.32,1001.35 L181.26,1001.68 L182.21,1002 L183.16,1002.33 L184.1,1002.66 L185.05,1002.99 L186,1003.32 L186.94,1003.66 L187.89,1003.99 L188.84,1004.32 L189.78,1004.65 L190.73,1004.99 L191.68,1005.33 L192.62,1005.67 L193.57,1006.01 L194.52,1006.35 L195.46,1006.69 L196.41,1007.04 L197.36,1007.38 L198.3,1007.72 L199.25,1008.07 L200.2,1008.41 L201.14,1008.75 L202.09,1009.09 L203.04,1009.43 L203.98,1009.77 L204.93,1010.1 L205.88,1010.44 L206.82,1010.77 L207.77,1011.09 L208.72,1011.42 L209.66,1011.74 L210.61,1012.05 L211.56,1012.37 L212.51,1012.67 L213.45,1012.98 L214.4,1013.28 L215.35,1013.57 L216.29,1013.86 L217.24,1014.15 L218.19,1014.45 L219.13,1014.74 L220.08,1015.03 L221.03,1015.32 L221.97,1015.61 L222.92,1015.89 L223.87,1016.18 L224.81,1016.46 L225.76,1016.74 L226.71,1017.01 L227.65,1017.29 L228.6,1017.56 L229.55,1017.82 L230.49,1018.09 L231.44,1018.35 L232.39,1018.6 L233.33,1018.85 L234.28,1019.1 L235.23,1019.34 L236.17,1019.57 L237.12,1019.8 L238.07,1020.02 L239.01,1020.24 L239.96,1020.45 L240.91,1020.66 L241.85,1020.86 L242.8,1021.06 L243.75,1021.27 L244.69,1021.47 L245.64,1021.68 L246.59,1021.88 L247.53,1022.08 L248.48,1022.29 L249.43,1022.49 L250.37,1022.68 L251.32,1022.88 L252.27,1023.07 L253.21,1023.26 L254.16,1023.44 L255.11,1023.61 L256.05,1023.79 L257,1023.95 L257.95,1024.11 L258.89,1024.26 L259.84,1024.4 L260.79,1024.54 L261.74,1024.66 L262.68,1024.78 L263.63,1024.89 L264.58,1024.98 L265.52,1025.07 L266.47,1025.14 L267.42,1025.2 L268.36,1025.26 L269.31,1025.31 L270.26,1025.36 L271.2,1025.41 L272.15,1025.46 L273.1,1025.51 L274.04,1025.55 L274.99,1025.59 L275.94,1025.62 L276.88,1025.65 L277.83,1025.67 L278.78,1025.69 L279.72,1025.7 L280.67,1025.7 L281.62,1025.68 L282.56,1025.62 L283.51,1025.53 L284.46,1025.42 L285.4,1025.28 L286.35,1025.12 L287.3,1024.93 L288.24,1024.72 L289.19,1024.5 L290.14,1024.26 L291.08,1024.01 L292.03,1023.75 L292.98,1023.48 L293.92,1023.2 L294.87,1022.85 L295.82,1022.42 L296.76,1021.91 L297.71,1021.34 L298.66,1020.72 L299.6,1020.05 L300.55,1019.34 L301.5,1018.6 L302.44,1017.81 L303.39,1016.92 L304.34,1015.95 L305.28,1014.9 L306.23,1013.77 L307.18,1012.55 L308.13,1011.27 L309.07,1009.91 L310.02,1008.48 L310.97,1006.98 L311.91,1005.37 L312.86,1003.56 L313.81,1001.55 L314.75,999.38 L315.7,997.06 L316.65,994.62 L317.59,992.07 L318.54,989.35 L319.49,986.39 L320.43,983.2 L321.38,979.77 L322.33,976.1 L323.27,972.1 L324.22,967.72 L325.17,962.91 L326.11,957.64 L327.06,951.73 L328.01,945.13 L328.95,937.93 L329.9,930.2 L333,899 L335.4,878.7 L336.6,872.6 L337.7,870.6 L338.9,871.6 L340.1,875.6 L342.4,899 L345.5,934.9 L346.73,947.7 L347.97,958.95 L349.2,967.98 L350.43,974.79 L351.66,980.46 L352.9,985.3 L354.13,989.6 L355.36,993.61 L356.6,997.37 L357.83,1000.82 L359.06,1003.93 L360.3,1006.65 L361.53,1008.96 L362.76,1011.01 L363.99,1012.84 L365.23,1014.43 L366.46,1015.77 L367.69,1016.92 L368.93,1018.03 L370.16,1019.08 L371.39,1020.07 L372.62,1020.97 L373.86,1021.79 L375.09,1022.5 L376.32,1023.1 L377.56,1023.56 L378.79,1023.89 L380.02,1024.18 L381.26,1024.46 L382.49,1024.72 L383.72,1024.96 L384.95,1025.18 L386.19,1025.39 L387.42,1025.57 L388.65,1025.73 L389.89,1025.86 L391.12,1025.96 L392.35,1026.04 L393.58,1026.09 L394.82,1026.1 L396.05,1026.08 L397.28,1026.03 L398.52,1025.96 L399.75,1025.86 L400.98,1025.73 L402.21,1025.58 L403.45,1025.41 L404.68,1025.22 L405.91,1025.01 L407.15,1024.78 L408.38,1024.54 L409.61,1024.28 L410.85,1024.01 L412.08,1023.73 L413.31,1023.44 L414.54,1023.15 L415.78,1022.84 L417.01,1022.53 L418.24,1022.22 L419.48,1021.91 L420.71,1021.59 L421.94,1021.28 L423.17,1020.97 L424.41,1020.67 L425.64,1020.37 L426.87,1020.06 L428.11,1019.73 L429.34,1019.39 L430.57,1019.04 L431.81,1018.68 L433.04,1018.3 L434.27,1017.91 L435.5,1017.51 L436.74,1017.1 L437.97,1016.68 L439.2,1016.25 L440.44,1015.81 L441.67,1015.36 L442.9,1014.91 L444.13,1014.44 L445.37,1013.97 L446.6,1013.49 L447.83,1013 L449.07,1012.51 L450.3,1012.01 L451.53,1011.51 L452.77,1011 L454,1010.48 L455.23,1009.96 L456.46,1009.44 L457.7,1008.91 L458.93,1008.39 L460.16,1007.85 L461.4,1007.32 L462.63,1006.79 L463.86,1006.25 L465.09,1005.71 L466.33,1005.18 L467.56,1004.64 L468.79,1004.1 L470.03,1003.57 L471.26,1003.03 L472.49,1002.5 L473.72,1001.96 L474.96,1001.41 L476.19,1000.85 L477.42,1000.28 L478.66,999.7 L479.89,999.12 L481.12,998.53 L482.36,997.93 L483.59,997.33 L484.82,996.72 L486.05,996.1 L487.29,995.48 L488.52,994.86 L489.75,994.23 L490.99,993.6 L492.22,992.96 L493.45,992.32 L494.68,991.68 L495.92,991.04 L497.15,990.4 L498.38,989.75 L499.62,989.1 L500.85,988.46 L502.08,987.81 L503.32,987.16 L504.55,986.52 L505.78,985.87 L507.01,985.23 L508.25,984.59 L509.48,983.95 L510.71,983.32 L511.95,982.69 L513.18,982.06 L514.41,981.43 L515.64,980.81 L516.88,980.2 L518.11,979.59 L519.34,978.99 L520.58,978.38 L521.81,977.78 L523.04,977.17 L524.28,976.56 L525.51,975.96 L526.74,975.35 L527.97,974.74 L529.21,974.14 L530.44,973.53 L531.67,972.93 L532.91,972.32 L534.14,971.72 L535.37,971.11 L536.6,970.51 L537.84,969.91 L539.07,969.3 L540.3,968.7 L541.54,968.1 L542.77,967.51 L544,966.91 L545.23,966.32 L546.47,965.72 L547.7,965.13 L548.93,964.54 L550.17,963.96 L551.4,963.37 L552.63,962.79 L553.87,962.21 L555.1,961.63 L556.33,961.05 L557.56,960.48 L558.8,959.91 L560.03,959.34 L561.26,958.78 L562.5,958.22 L563.73,957.66 L564.96,957.11 L566.19,956.56 L567.43,956.01 L568.66,955.47 L569.89,954.93 L571.13,954.39 L572.36,953.86 L573.59,953.33 L574.83,952.8 L576.06,952.27 L577.29,951.75 L578.52,951.23 L579.76,950.71 L580.99,950.2 L582.22,949.68 L583.46,949.17 L584.69,948.66 L585.92,948.15 L587.15,947.64 L588.39,947.13 L589.62,946.62 L590.85,946.12 L592.09,945.61 L593.32,945.1 L594.55,944.6 L595.79,944.09 L597.02,943.59 L598.25,943.08 L599.48,942.57 L600.72,942.07 L601.95,941.56 L603.18,941.05 L604.42,940.54 L605.65,940.02 L606.88,939.51 L608.11,939 L609.35,938.48 L610.58,937.96 L611.81,937.44 L613.05,936.91 L614.28,936.39 L615.51,935.87 L616.74,935.34 L617.98,934.82 L619.21,934.29 L620.44,933.77 L621.68,933.24 L622.91,932.72 L624.14,932.19 L625.38,931.66 L626.61,931.14 L627.84,930.61 L629.07,930.08 L630.31,929.55 L631.54,929.03 L632.77,928.5 L634.01,927.97 L635.24,927.44 L636.47,926.91 L637.7,926.38 L638.94,925.85 L640.17,925.32 L641.4,924.79 L642.64,924.26 L643.87,923.73 L645.1,923.2 L646.34,922.66 L647.57,922.13 L648.8,921.6 L650.03,921.07 L651.27,920.53 L652.5,920" fill="none" stroke="#008000" stroke-width="3.1" stroke-linejoin="round" stroke-linecap="square"/>
<line x1="340.4" y1="783" x2="340.4" y2="942.5" stroke="#008000" stroke-width="3" stroke-dasharray="3,4.95"/>
<line x1="361.9" y1="774.4" x2="361.9" y2="934.5" stroke="#0000ff" stroke-width="3" stroke-dasharray="3,4.95"/>
<line x1="399.6" y1="760" x2="399.6" y2="919.5" stroke="#ffa500" stroke-width="3" stroke-dasharray="3,4.95"/>
<line x1="191.49" y1="1074.6" x2="191.49" y2="1084.3" stroke="#000" stroke-width="2.2"/>
<line x1="279.03" y1="1074.6" x2="279.03" y2="1084.3" stroke="#000" stroke-width="2.2"/>
<line x1="366.57" y1="1074.6" x2="366.57" y2="1084.3" stroke="#000" stroke-width="2.2"/>
<line x1="454.11" y1="1074.6" x2="454.11" y2="1084.3" stroke="#000" stroke-width="2.2"/>
<line x1="541.65" y1="1074.6" x2="541.65" y2="1084.3" stroke="#000" stroke-width="2.2"/>
<line x1="629.19" y1="1074.6" x2="629.19" y2="1084.3" stroke="#000" stroke-width="2.2"/>
<line x1="106.3" y1="1074.6" x2="116" y2="1074.6" stroke="#000" stroke-width="2.2"/>
<line x1="106.3" y1="1006.96" x2="116" y2="1006.96" stroke="#000" stroke-width="2.2"/>
<line x1="106.3" y1="939.32" x2="116" y2="939.32" stroke="#000" stroke-width="2.2"/>
<line x1="106.3" y1="871.68" x2="116" y2="871.68" stroke="#000" stroke-width="2.2"/>
<line x1="106.3" y1="804.04" x2="116" y2="804.04" stroke="#000" stroke-width="2.2"/>
<line x1="106.3" y1="736.4" x2="116" y2="736.4" stroke="#000" stroke-width="2.2"/>
<rect x="116" y="709.3" width="562" height="365.3" fill="none" stroke="#000" stroke-width="2.2"/>
<text transform="matrix(1.1024,0,0,1,17.72,23.6)" font-size="29" textLength="38.7" lengthAdjust="spacing">(a)</text>
<text transform="matrix(1.1052,0,0,1,17.71,625)" font-size="29" textLength="38.79" lengthAdjust="spacing">(b)</text>
<text x="128.69" y="492.5" font-size="24.2" textLength="65.09" lengthAdjust="spacing">0.275</text>
<text x="226.69" y="492.5" font-size="24.2" textLength="65.51" lengthAdjust="spacing">0.300</text>
<text x="325.19" y="492.5" font-size="24.2" textLength="65.09" lengthAdjust="spacing">0.325</text>
<text x="423.2" y="492.5" font-size="24.2" textLength="65.51" lengthAdjust="spacing">0.350</text>
<text x="521.69" y="492.5" font-size="24.2" textLength="65.09" lengthAdjust="spacing">0.375</text>
<text x="619.7" y="492.5" font-size="24.2" textLength="65.51" lengthAdjust="spacing">0.400</text>
<text x="51.26" y="261.3" font-size="24.2" textLength="29.19" lengthAdjust="spacing">10</text>
<text x="81.3" y="252" font-size="15.9" textLength="10.01" lengthAdjust="spacingAndGlyphs">0</text>
<text x="39.66" y="454.5" font-size="24.2" textLength="29.29" lengthAdjust="spacing">10</text>
<text x="69.93" y="445.2" font-size="15.9" textLength="12.62" lengthAdjust="spacingAndGlyphs">&#8722;</text>
<text x="83.71" y="445.2" font-size="15.9" textLength="9.42" lengthAdjust="spacingAndGlyphs">1</text>
<text x="353.95" y="527.4" font-size="24.2" textLength="18.89" lengthAdjust="spacingAndGlyphs">&#934;</text>
<text x="373.58" y="531.2" font-size="17" textLength="8.52" lengthAdjust="spacingAndGlyphs" font-style="italic">x</text>
<text x="389.87" y="526.23" font-size="22.54" textLength="5.53" lengthAdjust="spacingAndGlyphs">(</text>
<text x="399.24" y="527.4" font-size="24.2" textLength="19.01" lengthAdjust="spacingAndGlyphs">&#934;</text>
<text x="417.35" y="531" font-size="17" textLength="9.31" lengthAdjust="spacingAndGlyphs">0</text>
<text x="430.96" y="526.23" font-size="22.54" textLength="7.91" lengthAdjust="spacingAndGlyphs">)</text>
<g transform="translate(18.6,392.8) rotate(-90)">
<text x="-1.23" y="0" font-size="24.2" textLength="189.3" lengthAdjust="spacing">Coherence time</text>
<text x="196.74" y="-1.5" font-size="23.18" textLength="6.78" lengthAdjust="spacingAndGlyphs">(</text>
<text x="205.81" y="0" font-size="24.2" textLength="26.39" lengthAdjust="spacing" font-style="italic">&#956;s</text>
<text x="234.59" y="-1.5" font-size="23.18" textLength="6.53" lengthAdjust="spacingAndGlyphs">)</text>
</g>
<text x="158.98" y="1112.8" font-size="24.2" textLength="65.09" lengthAdjust="spacing">0.475</text>
<text x="246.28" y="1112.8" font-size="24.2" textLength="65.51" lengthAdjust="spacing">0.500</text>
<text x="334.06" y="1112.8" font-size="24.2" textLength="65.09" lengthAdjust="spacing">0.525</text>
<text x="421.36" y="1112.8" font-size="24.2" textLength="65.51" lengthAdjust="spacing">0.550</text>
<text x="509.14" y="1112.8" font-size="24.2" textLength="65.09" lengthAdjust="spacing">0.575</text>
<text x="596.44" y="1112.8" font-size="24.2" textLength="65.51" lengthAdjust="spacing">0.600</text>
<text x="43.56" y="1083.9" font-size="24.2" textLength="50.69" lengthAdjust="spacing">0.00</text>
<text x="44.05" y="1016.26" font-size="24.2" textLength="50.27" lengthAdjust="spacing">0.05</text>
<text x="43.56" y="948.62" font-size="24.2" textLength="50.69" lengthAdjust="spacing">0.10</text>
<text x="44.05" y="880.98" font-size="24.2" textLength="50.27" lengthAdjust="spacing">0.15</text>
<text x="43.56" y="813.34" font-size="24.2" textLength="50.69" lengthAdjust="spacing">0.20</text>
<text x="44.05" y="745.7" font-size="24.2" textLength="50.27" lengthAdjust="spacing">0.25</text>
<text x="353.95" y="1147.8" font-size="24.2" textLength="18.89" lengthAdjust="spacingAndGlyphs">&#934;</text>
<text x="373.01" y="1151.2" font-size="17" textLength="9.14" lengthAdjust="spacingAndGlyphs" font-style="italic">z</text>
<text x="390.07" y="1146.38" font-size="22.33" textLength="5.53" lengthAdjust="spacingAndGlyphs">(</text>
<text x="398.86" y="1147.8" font-size="24.2" textLength="18.78" lengthAdjust="spacingAndGlyphs">&#934;</text>
<text x="416.81" y="1151.2" font-size="17" textLength="9.89" lengthAdjust="spacingAndGlyphs">0</text>
<text x="430.36" y="1146.38" font-size="22.33" textLength="7.79" lengthAdjust="spacingAndGlyphs">)</text>
<g transform="translate(18.8,930.7) rotate(-90)">
<text x="-2.23" y="0" font-size="24.2" textLength="15.16" lengthAdjust="spacingAndGlyphs" font-style="italic">T</text>
<text x="13.82" y="3.9" font-size="17" textLength="9.95" lengthAdjust="spacingAndGlyphs" font-style="italic">&#981;</text>
<text x="33.01" y="-1.08" font-size="23.08" textLength="6.91" lengthAdjust="spacingAndGlyphs">(</text>
<text x="42.51" y="0" font-size="24.2" textLength="25.39" lengthAdjust="spacing" font-style="italic">&#956;s</text>
<text x="70.99" y="-1.08" font-size="23.08" textLength="6.53" lengthAdjust="spacingAndGlyphs">)</text>
</g>
<rect x="125.8" y="1.3" width="514.5" height="77.1" rx="4" ry="4" fill="#fff" stroke="#d4d4d4" stroke-width="2.7"/>
<line x1="152.5" y1="10.3" x2="152.5" y2="29.4" stroke="#000000" stroke-width="2.6"/>
<line x1="146.35" y1="10.3" x2="158.65" y2="10.3" stroke="#000000" stroke-width="2.8"/>
<line x1="146.35" y1="29.4" x2="158.65" y2="29.4" stroke="#000000" stroke-width="2.8"/>
<circle cx="152.5" cy="19.6" r="6.15" fill="#000000"/>
<path d="M133.3,50.3 L171.7,50.3" fill="none" stroke="#000000" stroke-width="3.1" stroke-linejoin="round" stroke-linecap="square"/>
<line x1="331" y1="10.3" x2="331" y2="29.4" stroke="#0000ff" stroke-width="2.6"/>
<line x1="324.85" y1="10.3" x2="337.15" y2="10.3" stroke="#0000ff" stroke-width="2.8"/>
<line x1="324.85" y1="29.4" x2="337.15" y2="29.4" stroke="#0000ff" stroke-width="2.8"/>
<polygon points="331,12.85 324.15,25.85 337.85,25.85" fill="#0000ff"/>
<line x1="311.4" y1="53.3" x2="350.4" y2="53.3" stroke="#0000ff" stroke-width="3" stroke-dasharray="11.1,4.8"/>
<line x1="509.4" y1="10.3" x2="509.4" y2="29.4" stroke="#ff0000" stroke-width="2.6"/>
<line x1="503.25" y1="10.3" x2="515.55" y2="10.3" stroke="#ff0000" stroke-width="2.8"/>
<line x1="503.25" y1="29.4" x2="515.55" y2="29.4" stroke="#ff0000" stroke-width="2.8"/>
<rect x="503.35" y="13.65" width="12.1" height="12.1" fill="#ff0000"/>
<line x1="490.1" y1="56.1" x2="529.2" y2="56.1" stroke="#ff0000" stroke-width="3" stroke-dasharray="19,4.7,3,4.7"/>
<text x="186.26" y="25.8" font-size="20.3" textLength="12.53" lengthAdjust="spacingAndGlyphs" font-style="italic">T</text>
<text x="200.12" y="28.8" font-size="14.6" textLength="6.45" lengthAdjust="spacingAndGlyphs">1</text>
<text x="186.26" y="56.6" font-size="20.3" textLength="12.53" lengthAdjust="spacingAndGlyphs" font-style="italic">T</text>
<text x="200.12" y="59.6" font-size="14.6" textLength="6.45" lengthAdjust="spacingAndGlyphs">1</text>
<text x="214.43" y="25.8" font-size="20.3" textLength="44.37" lengthAdjust="spacing">Data</text>
<text x="214.43" y="56.6" font-size="20.3" textLength="57.22" lengthAdjust="spacing">Model</text>
<text x="364.36" y="25.7" font-size="20.3" textLength="13.16" lengthAdjust="spacingAndGlyphs" font-style="italic">T</text>
<text x="377.25" y="29.1" font-size="14" textLength="9.5" lengthAdjust="spacingAndGlyphs" font-style="italic">&#981;</text>
<text x="364.36" y="59.9" font-size="20.3" textLength="13.16" lengthAdjust="spacingAndGlyphs" font-style="italic">T</text>
<text x="377.25" y="63.3" font-size="14" textLength="9.5" lengthAdjust="spacingAndGlyphs" font-style="italic">&#981;</text>
<text x="393.03" y="25.7" font-size="20.3" textLength="44.37" lengthAdjust="spacing">Data</text>
<text x="393.03" y="59.9" font-size="20.3" textLength="57.22" lengthAdjust="spacing">Model</text>
<text x="542.84" y="25.8" font-size="20.3" textLength="12.64" lengthAdjust="spacingAndGlyphs" font-style="italic">T</text>
<text x="557.22" y="18.6" font-size="13.8" textLength="8.16" lengthAdjust="spacingAndGlyphs" font-style="italic">E</text>
<text x="555.56" y="31.1" font-size="13.5" textLength="9.27" lengthAdjust="spacingAndGlyphs" font-style="italic">&#981;</text>
<text x="542.84" y="62.1" font-size="20.3" textLength="12.64" lengthAdjust="spacingAndGlyphs" font-style="italic">T</text>
<text x="557.22" y="54.9" font-size="13.8" textLength="8.16" lengthAdjust="spacingAndGlyphs" font-style="italic">E</text>
<text x="555.56" y="67.4" font-size="13.5" textLength="9.27" lengthAdjust="spacingAndGlyphs" font-style="italic">&#981;</text>
<text x="572.83" y="25.8" font-size="20.3" textLength="44.07" lengthAdjust="spacing">Data</text>
<text x="572.83" y="62.1" font-size="20.3" textLength="57.22" lengthAdjust="spacing">Model</text>
<rect x="125.4" y="603.3" width="464.2" height="96.2" rx="4" ry="4" fill="#fff" stroke="#d4d4d4" stroke-width="2.7"/>
<line x1="152.5" y1="609.5" x2="152.5" y2="628.5" stroke="#008000" stroke-width="2.6"/>
<line x1="146.35" y1="609.5" x2="158.65" y2="609.5" stroke="#008000" stroke-width="2.8"/>
<line x1="146.35" y1="628.5" x2="158.65" y2="628.5" stroke="#008000" stroke-width="2.8"/>
<circle cx="152.5" cy="619" r="6.15" fill="#008000"/>
<line x1="152.5" y1="639.7" x2="152.5" y2="659.2" stroke="#0000ff" stroke-width="2.6"/>
<line x1="146.35" y1="639.7" x2="158.65" y2="639.7" stroke="#0000ff" stroke-width="2.8"/>
<line x1="146.35" y1="659.2" x2="158.65" y2="659.2" stroke="#0000ff" stroke-width="2.8"/>
<rect x="146.45" y="643.35" width="12.1" height="12.1" fill="#0000ff"/>
<line x1="152.5" y1="670.2" x2="152.5" y2="689" stroke="#ffa500" stroke-width="2.6"/>
<line x1="146.35" y1="670.2" x2="158.65" y2="670.2" stroke="#ffa500" stroke-width="2.8"/>
<line x1="146.35" y1="689" x2="158.65" y2="689" stroke="#ffa500" stroke-width="2.8"/>
<polygon points="152.5,672.95 145.65,685.95 159.35,685.95" fill="#ffa500"/>
<path d="M370.6,619 L409.9,619" fill="none" stroke="#008000" stroke-width="3.1" stroke-linejoin="round" stroke-linecap="square"/>
<line x1="370.8" y1="649.1" x2="410.2" y2="649.1" stroke="#0000ff" stroke-width="3" stroke-dasharray="11.1,4.8"/>
<line x1="370.8" y1="679.5" x2="410.2" y2="679.5" stroke="#ffa500" stroke-width="3" stroke-dasharray="19,4.7,3,4.7"/>
<text x="187.42" y="625" font-size="20.3" textLength="15.05" lengthAdjust="spacingAndGlyphs">&#934;</text>
<text x="203.13" y="628.4" font-size="14.6" textLength="6.59" lengthAdjust="spacingAndGlyphs" font-style="italic">x</text>
<text x="215.74" y="625" font-size="20.3" textLength="13.82" lengthAdjust="spacingAndGlyphs">=</text>
<text x="235.51" y="625" font-size="20.3" textLength="41.21" lengthAdjust="spacing">0.32</text>
<text x="284.23" y="625" font-size="20.3" textLength="43.67" lengthAdjust="spacing">Data</text>
<text x="425.32" y="625" font-size="20.3" textLength="15.05" lengthAdjust="spacingAndGlyphs">&#934;</text>
<text x="441.03" y="628.4" font-size="14.6" textLength="6.59" lengthAdjust="spacingAndGlyphs" font-style="italic">x</text>
<text x="453.64" y="625" font-size="20.3" textLength="13.82" lengthAdjust="spacingAndGlyphs">=</text>
<text x="473.41" y="625" font-size="20.3" textLength="41.21" lengthAdjust="spacing">0.32</text>
<text x="522.13" y="625" font-size="20.3" textLength="56.92" lengthAdjust="spacing">Model</text>
<text x="187.42" y="655.3" font-size="20.3" textLength="15.05" lengthAdjust="spacingAndGlyphs">&#934;</text>
<text x="203.13" y="658.7" font-size="14.6" textLength="6.59" lengthAdjust="spacingAndGlyphs" font-style="italic">x</text>
<text x="215.74" y="655.3" font-size="20.3" textLength="13.82" lengthAdjust="spacingAndGlyphs">=</text>
<text x="235.51" y="655.3" font-size="20.3" textLength="41.09" lengthAdjust="spacing">0.36</text>
<text x="284.23" y="655.3" font-size="20.3" textLength="43.67" lengthAdjust="spacing">Data</text>
<text x="425.32" y="655.3" font-size="20.3" textLength="15.05" lengthAdjust="spacingAndGlyphs">&#934;</text>
<text x="441.03" y="658.7" font-size="14.6" textLength="6.59" lengthAdjust="spacingAndGlyphs" font-style="italic">x</text>
<text x="453.64" y="655.3" font-size="20.3" textLength="13.82" lengthAdjust="spacingAndGlyphs">=</text>
<text x="473.41" y="655.3" font-size="20.3" textLength="41.09" lengthAdjust="spacing">0.36</text>
<text x="522.13" y="655.3" font-size="20.3" textLength="56.92" lengthAdjust="spacing">Model</text>
<text x="187.42" y="685.5" font-size="20.3" textLength="15.05" lengthAdjust="spacingAndGlyphs">&#934;</text>
<text x="203.13" y="688.9" font-size="14.6" textLength="6.59" lengthAdjust="spacingAndGlyphs" font-style="italic">x</text>
<text x="215.74" y="685.5" font-size="20.3" textLength="13.82" lengthAdjust="spacingAndGlyphs">=</text>
<text x="235.51" y="685.5" font-size="20.3" textLength="40.99" lengthAdjust="spacing">0.40</text>
<text x="284.23" y="685.5" font-size="20.3" textLength="43.67" lengthAdjust="spacing">Data</text>
<text x="425.32" y="685.5" font-size="20.3" textLength="15.05" lengthAdjust="spacingAndGlyphs">&#934;</text>
<text x="441.03" y="688.9" font-size="14.6" textLength="6.59" lengthAdjust="spacingAndGlyphs" font-style="italic">x</text>
<text x="453.64" y="685.5" font-size="20.3" textLength="13.82" lengthAdjust="spacingAndGlyphs">=</text>
<text x="473.41" y="685.5" font-size="20.3" textLength="40.99" lengthAdjust="spacing">0.40</text>
<text x="522.13" y="685.5" font-size="20.3" textLength="56.92" lengthAdjust="spacing">Model</text>
</svg></body></html>
